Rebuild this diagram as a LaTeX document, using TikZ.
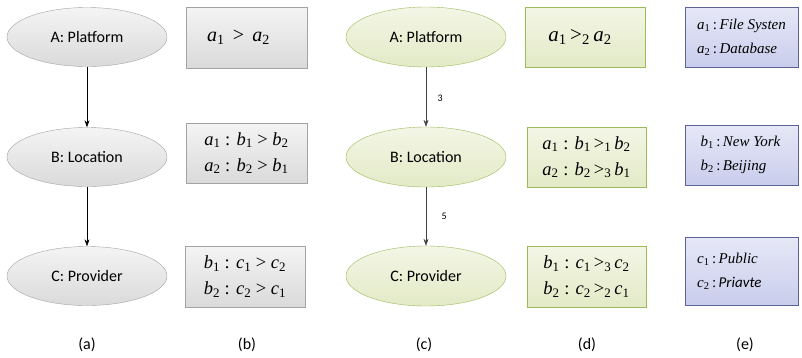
\documentclass[tikz,border=0pt]{standalone}
\usepackage{fontspec}
\setmainfont{Carlito}
\newfontfamily\tms{Liberation Serif}
\usetikzlibrary{shapes.geometric,arrows.meta}
\definecolor{grayedge}{HTML}{A3A3A3}
\definecolor{graytop}{HTML}{F4F4F4}
\definecolor{graybot}{HTML}{DADADA}
\definecolor{greenedge}{HTML}{9BBB59}
\definecolor{greentop}{HTML}{F3F6E6}
\definecolor{greenbot}{HTML}{E3EAC6}
\definecolor{blueedge}{HTML}{5B6494}
\definecolor{bluetop}{HTML}{E6E8F7}
\definecolor{bluebot}{HTML}{C9CDEC}
\newcommand\V[2]{\textit{#1}\textsubscript{#2}}
\newcommand\G[1]{\,>\textsubscript{#1}\,}
\tikzset{
  gell/.style={ellipse,draw=grayedge,top color=graytop,bottom color=graybot,minimum width=160pt,minimum height=59pt,inner sep=0pt,font=\fontsize{16}{19}\selectfont},
  cell/.style={ellipse,draw=greenedge,top color=greentop,bottom color=greenbot,minimum width=160pt,minimum height=60pt,inner sep=0pt,font=\fontsize{16}{19}\selectfont},
  gbox/.style={rectangle,draw=grayedge,top color=graytop,bottom color=graybot,inner sep=0pt,align=center,font=\tms\fontsize{18.5}{26}\selectfont},
  dbox/.style={rectangle,draw=greenedge,line width=0.8pt,top color=greentop,bottom color=greenbot,inner sep=0pt,align=center,font=\tms\fontsize{18.5}{26}\selectfont},
  ebox/.style={rectangle,draw=blueedge,top color=bluetop,bottom color=bluebot,inner sep=0pt,align=left,minimum width=113pt,font=\tms\fontsize{15}{24}\selectfont},
  arr/.style={-{Stealth[length=7pt,width=5pt]},line width=0.7pt},
  figcap/.style={font=\fontsize{16}{19}\selectfont},
  wlab/.style={font=\fontsize{10}{12}\selectfont}
}
\begin{document}
\begin{tikzpicture}[x=1pt,y=-1pt]
\useasboundingbox (0,0) rectangle (802,357);
% (a)
\node[gell] (aA) at (87,37) {A: Platform};
\node[gell] (aB) at (87,157) {B: Location};
\node[gell] (aC) at (87,276) {C: Provider};
\draw[arr] (aA) -- (aB);
\draw[arr] (aB) -- (aC);
% (b)
\node[gbox,minimum width=121pt,minimum height=61pt,font=\tms\fontsize{20}{26}\selectfont] (bA) at (246.5,37.5) {\V{a}{1}\, >\, \V{a}{2}\hspace*{16pt}};
\node[gbox,minimum width=121pt,minimum height=60pt] (bB) at (246.5,153) {\V{a}{1} : \V{b}{1} > \V{b}{2}\\ \V{a}{2} : \V{b}{2} > \V{b}{1}};
\node[gbox,minimum width=120pt,minimum height=61pt] (bC) at (245,276.5) {\V{b}{1} : \V{c}{1} > \V{c}{2}\\ \V{b}{2} : \V{c}{2} > \V{c}{1}};
% (c)
\node[cell] (cA) at (426,37) {A: Platform};
\node[cell] (cB) at (426,157) {B: Location};
\node[cell] (cC) at (426,276) {C: Provider};
\draw[arr,draw=black!75] (cA) -- node[wlab,right=8pt,pos=0.52]{3} (cB);
\draw[arr,draw=black!75] (cB) -- node[wlab,right=12pt,pos=0.5]{5} (cC);
% (d)
\node[dbox,minimum width=120pt,minimum height=60pt,font=\tms\fontsize{21}{26}\selectfont] (dA) at (585,37) {\V{a}{1}\G{2}\V{a}{2}\hspace*{10pt}};
\node[dbox,minimum width=119pt,minimum height=60pt] (dB) at (586.5,157) {\V{a}{1} : \V{b}{1}\G{1}\V{b}{2}\\ \V{a}{2} : \V{b}{2}\G{3}\V{b}{1}};
\node[dbox,minimum width=119pt,minimum height=61pt] (dC) at (586.5,276.5) {\V{b}{1} : \V{c}{1}\G{3}\V{c}{2}\\ \V{b}{2} : \V{c}{2}\G{2}\V{c}{1}};
% (e)
\node[ebox,minimum height=60pt] (eA) at (741.5,37) {\V{a}{1}\,:\,\textit{File Systen}\\ \V{a}{2}\,:\,\textit{Database}};
\node[ebox,minimum height=60pt] (eB) at (741.5,155) {\V{b}{1}\,:\,\textit{New York}\hspace*{2pt}\\ \V{b}{2}\,:\,\textit{Beijing}};
\node[ebox,minimum height=68pt] (eC) at (741.5,271) {\V{c}{1}\,:\,\textit{Public}\hspace*{28pt}\\ \V{c}{2}\,:\,{\rmfamily\itshape\fontsize{15}{24}\selectfont Priavte}};
% captions
\node[figcap] (la) at (87,345) {(a)};
\node[figcap] (lb) at (247,345) {(b)};
\node[figcap] (lc) at (424,345) {(c)};
\node[figcap] (ld) at (587,345) {(d)};
\node[figcap] (le) at (745,345) {(e)};
\end{tikzpicture}
\end{document}
